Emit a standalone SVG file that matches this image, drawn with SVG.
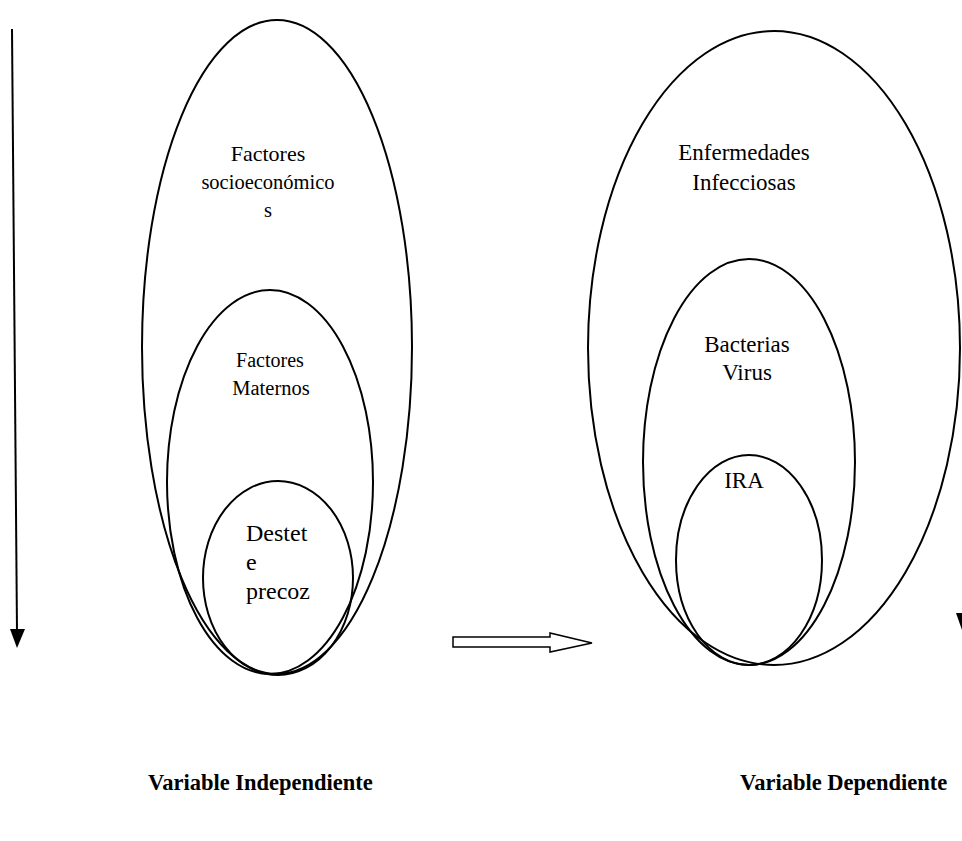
<svg xmlns="http://www.w3.org/2000/svg" width="962" height="841" viewBox="0 0 962 841">
<style>
.e{fill:none;stroke:#000;stroke-width:2}
.t{font-family:"Liberation Serif",serif;fill:#000;text-anchor:middle}
.s{font-family:"Liberation Serif",serif;fill:#000}
.b{font-family:"Liberation Serif",serif;font-weight:bold;font-size:22.5px;fill:#000}
</style>
<rect width="962" height="841" fill="#fff"/>
<g id="connectors">
<line x1="12" y1="29" x2="17" y2="632" stroke="#000" stroke-width="2"/>
<polygon points="10,629 25,629 17,648" fill="#000"/>
<polygon points="956,613 962,613 962,630" fill="#000"/>
<polygon points="453,637 550,637 550,633 592,643 550,652 550,647 453,647" fill="#fff" stroke="#000" stroke-width="1.5"/>
</g>
<g id="socio">
<ellipse class="e" cx="277" cy="347" rx="135" ry="327"/>
<text class="t" font-size="22" x="268" y="161">Factores</text>
<text class="t" font-size="20.5" x="268" y="189">socioeconómico</text>
<text class="t" font-size="20.5" x="268" y="217">s</text>
</g>
<g id="maternos">
<ellipse class="e" cx="270" cy="482" rx="103" ry="192"/>
<text class="t" font-size="20" x="270" y="367">Factores</text>
<text class="t" font-size="20.5" x="271" y="395">Maternos</text>
</g>
<g id="destete">
<ellipse class="e" cx="278" cy="578" rx="75" ry="97"/>
<text class="s" font-size="24" x="246" y="541">Destet</text>
<text class="s" font-size="24" x="246" y="570">e</text>
<text class="s" font-size="24" x="246" y="599">precoz</text>
</g>
<g id="enfermedades">
<ellipse class="e" cx="774" cy="348" rx="186" ry="317"/>
<text class="t" font-size="23" x="744" y="160">Enfermedades</text>
<text class="t" font-size="23" x="744" y="190">Infecciosas</text>
</g>
<g id="bacterias">
<ellipse class="e" cx="749" cy="462" rx="106" ry="203"/>
<text class="t" font-size="23" x="747" y="352">Bacterias</text>
<text class="t" font-size="23" x="747" y="380">Virus</text>
</g>
<g id="ira">
<ellipse class="e" cx="749" cy="560" rx="73" ry="105"/>
<text class="t" font-size="23" x="744" y="488">IRA</text>
</g>
<g id="labels">
<text class="b" x="148" y="790">Variable Independiente</text>
<text class="b" x="740" y="790">Variable Dependiente</text>
</g>
</svg>
